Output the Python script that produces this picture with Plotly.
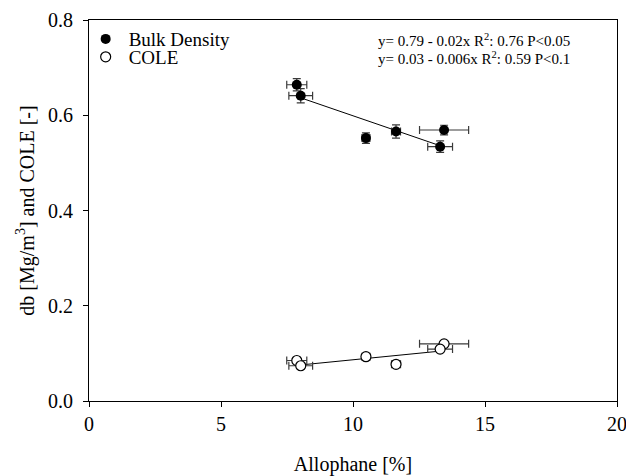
import plotly.graph_objects as go

# ---- data ----
allophane = [7.87, 8.02, 10.49, 11.63, 13.45, 13.30]
allophane_err = [0.38, 0.45, 0.15, 0.17, 0.93, 0.47]
bulk_density = [0.664, 0.641, 0.552, 0.566, 0.569, 0.534]
bulk_density_err = [0.013, 0.015, 0.011, 0.014, 0.010, 0.012]
cole = [0.085, 0.074, 0.093, 0.077, 0.120, 0.109]
cole_err = [0.006, 0.006, 0.005, 0.006, 0.005, 0.006]

fit_x = [8.0, 13.3]
bd_fit = [0.637, 0.536]
cole_fit = [0.0756, 0.1047]

eq_bd = "y= 0.79 - 0.02x R<sup>2</sup>: 0.76 P<0.05"
eq_cole = "y= 0.03 - 0.006x R<sup>2</sup>: 0.59 P<0.1"

x_ticks = [0, 5, 10, 15, 20]
y_ticks = [0.0, 0.2, 0.4, 0.6, 0.8]

FONT = "Liberation Serif, Times New Roman, serif"
ERRC = "#3a3a3a"

fig = go.Figure()

fig.add_trace(go.Scatter(
    x=fit_x, y=bd_fit, mode="lines", line=dict(color="black", width=1),
    showlegend=False, hoverinfo="skip"))
fig.add_trace(go.Scatter(
    x=fit_x, y=cole_fit, mode="lines", line=dict(color="black", width=1),
    showlegend=False, hoverinfo="skip"))

fig.add_trace(go.Scatter(
    x=allophane, y=bulk_density, mode="markers", name="Bulk Density",
    legend="legend",
    marker=dict(symbol="circle", size=10, color="black", line=dict(width=0)),
    error_x=dict(type="data", array=allophane_err, color=ERRC, thickness=1.2, width=4),
    error_y=dict(type="data", array=bulk_density_err, color=ERRC, thickness=1.2, width=4)))

fig.add_trace(go.Scatter(
    x=allophane, y=cole, mode="markers", name="COLE",
    legend="legend2",
    marker=dict(symbol="circle", size=10, color="white", line=dict(width=1.2, color="black")),
    error_x=dict(type="data", array=allophane_err, color=ERRC, thickness=1.2, width=4),
    error_y=dict(type="data", array=cole_err, color=ERRC, thickness=1.2, width=4)))

fig.add_annotation(x=0.543, y=0.947, xref="paper", yref="paper", text=eq_bd,
                   showarrow=False, xanchor="left", yanchor="middle",
                   font=dict(family=FONT, size=15, color="black"))
fig.add_annotation(x=0.543, y=0.899, xref="paper", yref="paper", text=eq_cole,
                   showarrow=False, xanchor="left", yanchor="middle",
                   font=dict(family=FONT, size=15, color="black"))

leg_common = dict(xanchor="left", yanchor="middle", bgcolor="rgba(0,0,0,0)",
                  font=dict(family=FONT, size=19), itemwidth=36,
                  borderwidth=0)

fig.update_layout(
    width=626, height=476,
    margin=dict(l=89, r=9, t=20, b=75, autoexpand=False),
    paper_bgcolor="white", plot_bgcolor="white",
    font=dict(family=FONT, size=20, color="black"),
    showlegend=True,
    legend=dict(x=-0.012, y=0.95, **leg_common),
    legend2=dict(x=-0.012, y=0.903, **leg_common),
    xaxis=dict(range=[0, 20], tickvals=x_ticks, ticktext=[str(v) for v in x_ticks],
               ticks="outside", ticklen=5, tickwidth=1, tickcolor="black",
               ticklabeloverflow="allow",
               showline=True, linecolor="black", linewidth=1, mirror=True,
               showgrid=False, zeroline=False,
               title=dict(text="Allophane [%]", standoff=22,
                          font=dict(family=FONT, size=20))),
    yaxis=dict(range=[0, 0.8], tickvals=y_ticks, ticktext=[f"{v:.1f}" for v in y_ticks],
               ticks="outside", ticklen=5, tickwidth=1, tickcolor="black",
               ticklabelstandoff=6,
               showline=True, linecolor="black", linewidth=1, mirror=True,
               showgrid=False, zeroline=False,
               title=dict(text="db [Mg/m<sup>3</sup>] and COLE [-]", standoff=8,
                          font=dict(family=FONT, size=20))),
)

fig.write_html("out.html")
